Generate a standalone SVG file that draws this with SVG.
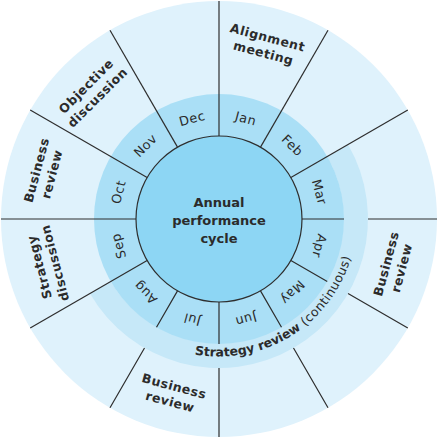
<svg xmlns="http://www.w3.org/2000/svg" width="440" height="440" viewBox="0 0 440 440">
<defs>
<style>
.bg{fill:#dff2fc}
.sr{fill:#c6e8f8}
.mr{fill:#aadff6}
.core{fill:#8dd6f4;stroke:#2e2e2e;stroke-width:1.2}
.ln{stroke:#2e2e2e;stroke-width:1.2;fill:none}
text{font-family:"DejaVu Sans","Liberation Sans",sans-serif;fill:#2b2b2b}
.m{font-size:12.8px;text-anchor:middle;dominant-baseline:central;letter-spacing:0.6px}
.o{font-size:12.5px;font-weight:bold;text-anchor:middle;dominant-baseline:central;letter-spacing:0.5px}
.c{font-size:13px;font-weight:bold;text-anchor:middle;dominant-baseline:central}
</style>
<path id="arcp" d="M194.65,354.33 A137.5,137.5 0 0 0 354.4,195.1"/>
</defs>
<g id="rings">
<circle class="bg" cx="219" cy="219" r="218"/>
<path class="sr" d="M348.04,144.5 A149,149 0 0 1 89.96,293.5 L110.75,281.5 A125,125 0 0 0 327.25,156.5 Z"/>
<circle class="mr" cx="219" cy="219" r="125"/>
</g>
<g id="connectors" transform="translate(219,219)">
<line class="ln" x1="0" y1="-83" x2="0" y2="-218" transform="rotate(0)"/>
<line class="ln" x1="0" y1="-83" x2="0" y2="-218" transform="rotate(30)"/>
<line class="ln" x1="0" y1="-83" x2="0" y2="-218" transform="rotate(60)"/>
<line class="ln" x1="0" y1="-83" x2="0" y2="-218" transform="rotate(240)"/>
<line class="ln" x1="0" y1="-83" x2="0" y2="-218" transform="rotate(270)"/>
<line class="ln" x1="0" y1="-83" x2="0" y2="-218" transform="rotate(300)"/>
<line class="ln" x1="0" y1="-83" x2="0" y2="-218" transform="rotate(330)"/>
<path class="ln" d="M0,-83 V-125 M0,-149 V-218" transform="rotate(90)"/>
<path class="ln" d="M0,-83 V-125 M0,-149 V-218" transform="rotate(120)"/>
<path class="ln" d="M0,-83 V-125 M0,-149 V-218" transform="rotate(150)"/>
<path class="ln" d="M0,-83 V-125 M0,-149 V-218" transform="rotate(180)"/>
<path class="ln" d="M0,-83 V-125 M0,-149 V-218" transform="rotate(210)"/>
</g>
<g id="center">
<circle class="core" cx="219" cy="219" r="83"/>
<text class="c" x="219" y="202.5">Annual</text>
<text class="c" x="219" y="220.5">performance</text>
<text class="c" x="219" y="238">cycle</text>
</g>
<g id="months" transform="translate(219,219)">
<text class="m" transform="rotate(15) translate(0,-104)">Jan</text>
<text class="m" transform="rotate(45) translate(0,-104)">Feb</text>
<text class="m" transform="rotate(75) translate(0,-104)">Mar</text>
<text class="m" transform="rotate(105) translate(0,-104)">Apr</text>
<text class="m" transform="rotate(135) translate(0,-104)">May</text>
<text class="m" transform="rotate(165) translate(0,-104)">Jun</text>
<text class="m" transform="rotate(195) translate(0,-104)">Jul</text>
<text class="m" transform="rotate(225) translate(0,-104)">Aug</text>
<text class="m" transform="rotate(255) translate(0,-104)">Sep</text>
<text class="m" transform="rotate(285) translate(0,-104)">Oct</text>
<text class="m" transform="rotate(315) translate(0,-104)">Nov</text>
<text class="m" transform="rotate(345) translate(0,-104)">Dec</text>
</g>
<g id="strategy-review">
<text font-size="12.5px"><textPath href="#arcp"><tspan font-weight="bold">Strategy review</tspan><tspan letter-spacing="0.5"> (continuous)</tspan></textPath></text>
</g>
<g id="alignment-meeting" transform="translate(219,219) rotate(15) translate(0,-180)">
<text class="o" y="-8">Alignment</text>
<text class="o" y="8">meeting</text>
</g>
<g id="objective-discussion" transform="translate(219,219) rotate(315) translate(0,-180)">
<text class="o" y="-8">Objective</text>
<text class="o" y="8">discussion</text>
</g>
<g id="business-review-oct" transform="translate(219,219) rotate(285) translate(0,-181)">
<text class="o" y="-8">Business</text>
<text class="o" y="8">review</text>
</g>
<g id="strategy-discussion" transform="translate(219,219) rotate(255) translate(0,-178)">
<text class="o" y="-8">Strategy</text>
<text class="o" y="8">discussion</text>
</g>
<g id="business-review-jul" transform="translate(219,219) rotate(195) translate(0,-181) rotate(180)">
<text class="o" y="-8">Business</text>
<text class="o" y="8">review</text>
</g>
<g id="business-review-apr" transform="translate(219,219) rotate(105) translate(0,-181) rotate(180)">
<text class="o" y="-8">Business</text>
<text class="o" y="8">review</text>
</g>
</svg>
